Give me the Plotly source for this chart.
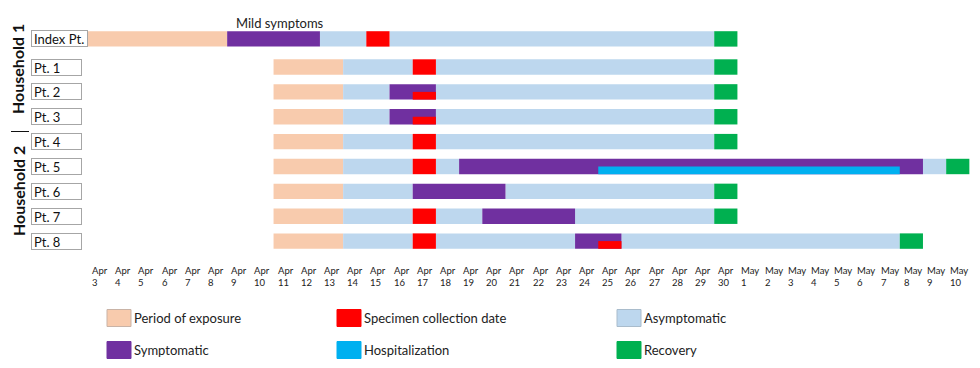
import plotly.graph_objects as go

# ---------------- data ----------------
rows = ["Index Pt.", "Pt. 1", "Pt. 2", "Pt. 3", "Pt. 4", "Pt. 5", "Pt. 6", "Pt. 7", "Pt. 8"]

day_months = ["Apr"] * 28 + ["May"] * 10
day_numbers = list(range(3, 31)) + list(range(1, 11))
day_labels = [f"{m} {d}" for m, d in zip(day_months, day_numbers)]

categories = ["Period of exposure", "Specimen collection date", "Asymptomatic",
              "Symptomatic", "Hospitalization", "Recovery"]

# each segment: patient, state, first day, last day (inclusive), drawn in lower half of bar
seg_row = (["Index Pt."] * 6 + ["Pt. 1"] * 5 + ["Pt. 2"] * 6 + ["Pt. 3"] * 6 + ["Pt. 4"] * 5
           + ["Pt. 5"] * 8 + ["Pt. 6"] * 5 + ["Pt. 7"] * 7 + ["Pt. 8"] * 8)
seg_cat = [
    # Index Pt.
    "Period of exposure", "Symptomatic", "Asymptomatic", "Specimen collection date", "Asymptomatic", "Recovery",
    # Pt. 1
    "Period of exposure", "Asymptomatic", "Specimen collection date", "Asymptomatic", "Recovery",
    # Pt. 2
    "Period of exposure", "Asymptomatic", "Symptomatic", "Specimen collection date", "Asymptomatic", "Recovery",
    # Pt. 3
    "Period of exposure", "Asymptomatic", "Symptomatic", "Specimen collection date", "Asymptomatic", "Recovery",
    # Pt. 4
    "Period of exposure", "Asymptomatic", "Specimen collection date", "Asymptomatic", "Recovery",
    # Pt. 5
    "Period of exposure", "Asymptomatic", "Specimen collection date", "Asymptomatic", "Symptomatic",
    "Hospitalization", "Asymptomatic", "Recovery",
    # Pt. 6
    "Period of exposure", "Asymptomatic", "Symptomatic", "Asymptomatic", "Recovery",
    # Pt. 7
    "Period of exposure", "Asymptomatic", "Specimen collection date", "Asymptomatic", "Symptomatic",
    "Asymptomatic", "Recovery",
    # Pt. 8
    "Period of exposure", "Asymptomatic", "Specimen collection date", "Asymptomatic", "Symptomatic",
    "Specimen collection date", "Asymptomatic", "Recovery",
]
seg_from = [
    "Apr 3", "Apr 9", "Apr 13", "Apr 15", "Apr 16", "Apr 30",
    "Apr 11", "Apr 14", "Apr 17", "Apr 18", "Apr 30",
    "Apr 11", "Apr 14", "Apr 16", "Apr 17", "Apr 18", "Apr 30",
    "Apr 11", "Apr 14", "Apr 16", "Apr 17", "Apr 18", "Apr 30",
    "Apr 11", "Apr 14", "Apr 17", "Apr 18", "Apr 30",
    "Apr 11", "Apr 14", "Apr 17", "Apr 18", "Apr 19", "Apr 25", "May 9", "May 10",
    "Apr 11", "Apr 14", "Apr 17", "Apr 21", "Apr 30",
    "Apr 11", "Apr 14", "Apr 17", "Apr 18", "Apr 20", "Apr 24", "Apr 30",
    "Apr 11", "Apr 14", "Apr 17", "Apr 18", "Apr 24", "Apr 25", "Apr 26", "May 8",
]
seg_to = [
    "Apr 8", "Apr 12", "Apr 14", "Apr 15", "Apr 29", "Apr 30",
    "Apr 13", "Apr 16", "Apr 17", "Apr 29", "Apr 30",
    "Apr 13", "Apr 15", "Apr 17", "Apr 17", "Apr 29", "Apr 30",
    "Apr 13", "Apr 15", "Apr 17", "Apr 17", "Apr 29", "Apr 30",
    "Apr 13", "Apr 16", "Apr 17", "Apr 29", "Apr 30",
    "Apr 13", "Apr 16", "Apr 17", "Apr 18", "May 8", "May 7", "May 9", "May 10",
    "Apr 13", "Apr 16", "Apr 20", "Apr 29", "Apr 30",
    "Apr 13", "Apr 16", "Apr 17", "Apr 19", "Apr 23", "Apr 29", "Apr 30",
    "Apr 13", "Apr 16", "Apr 17", "Apr 23", "Apr 25", "Apr 25", "May 7", "May 8",
]
seg_half = [
    0, 0, 0, 0, 0, 0,
    0, 0, 0, 0, 0,
    0, 0, 0, 1, 0, 0,
    0, 0, 0, 1, 0, 0,
    0, 0, 0, 0, 0,
    0, 0, 0, 0, 0, 1, 0, 0,
    0, 0, 0, 0, 0,
    0, 0, 0, 0, 0, 0, 0,
    0, 0, 0, 0, 0, 1, 0, 0,
]

# ---------------- styles / layout ----------------
colors = {
    "Period of exposure": "#F8CBAD",
    "Specimen collection date": "#FF0000",
    "Asymptomatic": "#BDD7EE",
    "Symptomatic": "#7030A0",
    "Hospitalization": "#00B0F0",
    "Recovery": "#00B050",
}
swatch_border = {
    "Period of exposure": "#C9B3A6",
    "Asymptomatic": "#A9BCCC",
}
draw_order = ["Period of exposure", "Asymptomatic", "Symptomatic",
              "Specimen collection date", "Hospitalization", "Recovery"]

FONT = "Lato, 'Open Sans', sans-serif"
W, H = 980, 368
ML, MR, MT, MB = 88, 6, 21, 109
PW, PH = W - ML - MR, H - MT - MB
X_MAX = 38.2
BAR_W = 0.62
FIRST_GAP = 1.13          # extra space under the index patient row
Y_TOP, Y_BOTTOM = -0.72, 8.85


def row_pos(r):
    return 0 if r == 0 else FIRST_GAP + (r - 1)


def px_x(px):
    return (px - ML) / PW


def px_y(py):
    return 1 - (py - MT) / PH


fig = go.Figure()

for cat in draw_order:
    idx = [i for i, c in enumerate(seg_cat) if c == cat]
    if not idx:
        continue
    ys = [row_pos(rows.index(seg_row[i])) for i in idx]
    bases = [day_labels.index(seg_from[i]) for i in idx]
    lengths = [day_labels.index(seg_to[i]) - day_labels.index(seg_from[i]) + 1 for i in idx]
    widths = [BAR_W / 2 if seg_half[i] else BAR_W for i in idx]
    offsets = [0 if seg_half[i] else -BAR_W / 2 for i in idx]
    fig.add_trace(go.Bar(
        y=ys, x=lengths, base=bases, orientation="h",
        width=widths, offset=offsets,
        marker=dict(color=colors[cat], line=dict(width=0)),
        name=cat, showlegend=False, hoverinfo="skip",
    ))

annotations = []
shapes = []

# x tick labels (left-aligned two-line labels at each day cell)
for i, (m, d) in enumerate(zip(day_months, day_numbers)):
    annotations.append(dict(
        x=i, xref="x", y=px_y(263), yref="paper",
        xanchor="left", yanchor="top", xshift=2,
        text=f"{m}<br>{d}", align="left", showarrow=False,
        font=dict(family=FONT, size=9.5, color="#222222"),
    ))

# patient label boxes
for r, name in enumerate(rows):
    annotations.append(dict(
        x=px_x(31), xref="paper", y=row_pos(r), yref="y",
        xanchor="left", yanchor="middle",
        text=name, align="left", showarrow=False,
        width=51 if r == 0 else 45, height=11,
        bordercolor="#A6A6A6", borderwidth=1, borderpad=2,
        font=dict(family=FONT, size=13, color="#111111"),
    ))

# household labels
annotations.append(dict(
    x=px_x(18), xref="paper", y=px_y(69), yref="paper",
    text="<b>Household 1</b>", textangle=-90, showarrow=False,
    xanchor="center", yanchor="middle",
    font=dict(family=FONT, size=16, color="#111111"),
))
annotations.append(dict(
    x=px_x(18), xref="paper", y=px_y(191), yref="paper",
    text="<b>Household 2</b>", textangle=-90, showarrow=False,
    xanchor="center", yanchor="middle",
    font=dict(family=FONT, size=16, color="#111111"),
))
shapes.append(dict(
    type="line", xref="paper", yref="paper",
    x0=px_x(11), x1=px_x(29), y0=px_y(131.5), y1=px_y(131.5),
    line=dict(color="#111111", width=1),
))

# "Mild symptoms" note
annotations.append(dict(
    x=px_x(280), xref="paper", y=px_y(23), yref="paper",
    text="Mild symptoms", showarrow=False, xanchor="center", yanchor="middle",
    font=dict(family=FONT, size=13, color="#222222"),
))

# custom legend
legend_cols = [107, 337, 617]
legend_rows = [318, 350]
for k, cat in enumerate(categories):
    cx = legend_cols[k % 3]
    cy = legend_rows[k // 3]
    shapes.append(dict(
        type="rect", xref="paper", yref="paper",
        x0=px_x(cx), x1=px_x(cx + 24), y0=px_y(cy - 8.5), y1=px_y(cy + 8.5),
        fillcolor=colors[cat],
        line=dict(color=swatch_border.get(cat, colors[cat]), width=1),
    ))
    annotations.append(dict(
        x=px_x(cx + 25), xref="paper", y=px_y(cy), yref="paper",
        text=cat, showarrow=False, xanchor="left", yanchor="middle",
        font=dict(family=FONT, size=13, color="#222222"),
    ))

fig.update_layout(
    width=W, height=H,
    margin=dict(l=ML, r=MR, t=MT, b=MB, pad=0),
    paper_bgcolor="white", plot_bgcolor="white",
    barmode="overlay",
    xaxis=dict(range=[0, X_MAX], visible=False, fixedrange=True),
    yaxis=dict(range=[Y_BOTTOM, Y_TOP], visible=False, fixedrange=True),
    showlegend=False,
    annotations=annotations,
    shapes=shapes,
    font=dict(family=FONT),
)

fig.write_html(
    "out.html",
    config={"displayModeBar": False},
    post_script="document.body.style.margin='0';document.body.style.overflow='hidden';",
)
